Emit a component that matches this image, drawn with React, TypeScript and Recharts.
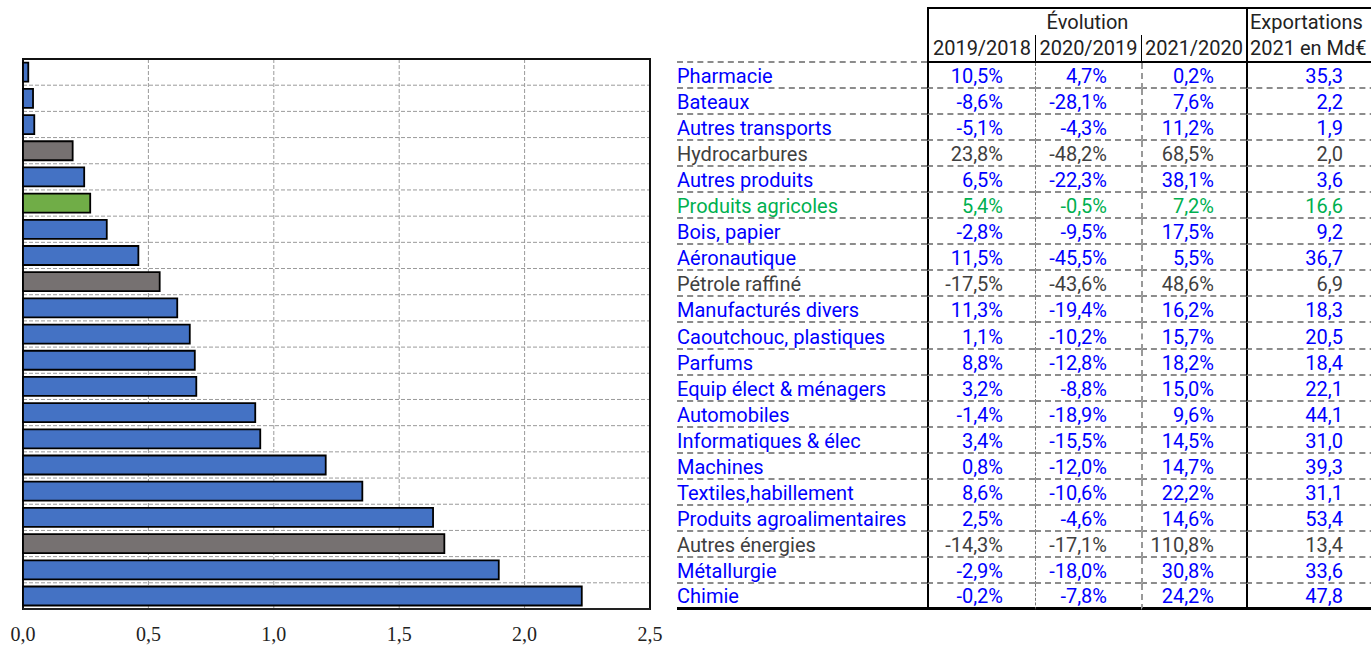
import { Bar, BarChart, CartesianGrid, Cell, ReferenceArea, XAxis, YAxis } from 'recharts'

// secteurs, du plus petit au plus grand
const CATEGORIES = [
  'Pharmacie',
  'Bateaux',
  'Autres transports',
  'Hydrocarbures',
  'Autres produits',
  'Produits agricoles',
  'Bois, papier',
  'Aéronautique',
  'Pétrole raffiné',
  'Manufacturés divers',
  'Caoutchouc, plastiques',
  'Parfums',
  'Equip élect & ménagers',
  'Automobiles',
  'Informatiques & élec',
  'Machines',
  'Textiles,habillement',
  'Produits agroalimentaires',
  'Autres énergies',
  'Métallurgie',
  'Chimie',
]

const VALUES = [
  0.021, 0.04, 0.045, 0.198, 0.244, 0.268, 0.334, 0.46, 0.545, 0.615, 0.665, 0.685, 0.691, 0.926,
  0.946, 1.207, 1.353, 1.635, 1.68, 1.897, 2.228,
]

// m = manufacturés, e = énergie, a = agriculture
const GROUPS = [
  'm', 'm', 'm', 'e', 'm', 'a', 'm', 'm', 'e', 'm', 'm', 'm', 'm', 'm', 'm', 'm', 'm', 'm', 'e',
  'm', 'm',
]

const EVOL_2019_2018 = [
  10.5, -8.6, -5.1, 23.8, 6.5, 5.4, -2.8, 11.5, -17.5, 11.3, 1.1, 8.8, 3.2, -1.4, 3.4, 0.8, 8.6,
  2.5, -14.3, -2.9, -0.2,
]
const EVOL_2020_2019 = [
  4.7, -28.1, -4.3, -48.2, -22.3, -0.5, -9.5, -45.5, -43.6, -19.4, -10.2, -12.8, -8.8, -18.9,
  -15.5, -12.0, -10.6, -4.6, -17.1, -18.0, -7.8,
]
const EVOL_2021_2020 = [
  0.2, 7.6, 11.2, 68.5, 38.1, 7.2, 17.5, 5.5, 48.6, 16.2, 15.7, 18.2, 15.0, 9.6, 14.5, 14.7, 22.2,
  14.6, 110.8, 30.8, 24.2,
]
const EXPORTS_2021 = [
  35.3, 2.2, 1.9, 2.0, 3.6, 16.6, 9.2, 36.7, 6.9, 18.3, 20.5, 18.4, 22.1, 44.1, 31.0, 39.3, 31.1,
  53.4, 13.4, 33.6, 47.8,
]

const X_TICKS = [0, 0.5, 1, 1.5, 2, 2.5]

const BAR_COLORS: Record<string, string> = { m: '#4472C4', e: '#767171', a: '#70AD47' }
const TEXT_COLORS: Record<string, string> = { m: '#0000FF', e: '#404040', a: '#00B050' }

const data = CATEGORIES.map((name, i) => ({ name, value: VALUES[i], group: GROUPS[i] }))

const fmt1 = (v: number) => v.toFixed(1).replace('.', ',')
const fmtPct = (v: number) => `${fmt1(v)}%`

const COL_W = [250, 108, 106, 105, 140]
const ROW_H = 26.05
const FONT = 'Roboto, sans-serif'

function Table() {
  const cell = (w: number, extra: React.CSSProperties = {}): React.CSSProperties => ({
    width: w,
    boxSizing: 'border-box',
    height: '100%',
    display: 'flex',
    alignItems: 'center',
    whiteSpace: 'nowrap',
    ...extra,
  })
  return (
    <div
      style={{
        position: 'absolute',
        left: 677,
        top: 7,
        fontFamily: FONT,
        fontSize: 20,
        color: '#222',
      }}
    >
      {/* en-tête */}
      <div style={{ display: 'flex', height: 28 }}>
        <div style={cell(COL_W[0])} />
        <div
          style={cell(COL_W[1] + COL_W[2] + COL_W[3], {
            justifyContent: 'center',
            borderTop: '2px solid #000',
            borderLeft: '2px solid #000',
          })}
        >
          Évolution
        </div>
        <div
          style={cell(COL_W[4], {
            paddingLeft: 2,
            borderTop: '2px solid #000',
            borderLeft: '2px solid #000',
          })}
        >
          Exportations
        </div>
      </div>
      <div style={{ display: 'flex', height: 28 }}>
        <div style={cell(COL_W[0], { borderBottom: '2px dashed #8c8c8c' })} />
        {['2019/2018', '2020/2019', '2021/2020'].map((t, j) => (
          <div
            key={t}
            style={cell(COL_W[j + 1], {
              justifyContent: 'center',
              borderLeft: j === 0 ? '2px solid #000' : '1px solid #000',
              borderBottom: '2px solid #000',
            })}
          >
            {t}
          </div>
        ))}
        <div
          style={cell(COL_W[4], {
            paddingLeft: 2,
            borderLeft: '2px solid #000',
            borderBottom: '2px solid #000',
          })}
        >
          2021 en Md€
        </div>
      </div>
      {/* lignes */}
      {CATEGORIES.map((name, i) => {
        const color = TEXT_COLORS[GROUPS[i]]
        const last = i === CATEGORIES.length - 1
        const bottom = last ? '3px solid #000' : '2px dashed #8c8c8c'
        return (
          <div key={name} style={{ display: 'flex', height: ROW_H, color }}>
            <div style={cell(COL_W[0], { borderBottom: bottom, paddingTop: 2 })}>{name}</div>
            <div
              style={cell(COL_W[1], {
                justifyContent: 'flex-end',
                paddingRight: 32,
                paddingTop: 2,
                borderLeft: '2px solid #000',
                borderBottom: bottom,
              })}
            >
              {fmtPct(EVOL_2019_2018[i])}
            </div>
            <div
              style={cell(COL_W[2], {
                justifyContent: 'flex-end',
                paddingRight: 34,
                paddingTop: 2,
                borderLeft: '1px dashed #777',
                borderBottom: bottom,
              })}
            >
              {fmtPct(EVOL_2020_2019[i])}
            </div>
            <div
              style={cell(COL_W[3], {
                justifyContent: 'flex-end',
                paddingRight: 32,
                paddingTop: 2,
                borderLeft: '2px dashed #999',
                borderBottom: bottom,
              })}
            >
              {fmtPct(EVOL_2021_2020[i])}
            </div>
            <div
              style={cell(COL_W[4], {
                justifyContent: 'flex-end',
                paddingRight: 43,
                paddingTop: 2,
                borderLeft: '2px solid #000',
                borderBottom: bottom,
              })}
            >
              {fmt1(EXPORTS_2021[i])}
            </div>
          </div>
        )
      })}
    </div>
  )
}

export default function App() {
  const n = data.length
  return (
    <div
      style={{
        position: 'absolute',
        left: 0,
        top: 0,
        width: 1371,
        height: 646,
        overflow: 'hidden',
        background: '#fff',
      }}
    >
      <div style={{ position: 'absolute', left: 0, top: 0 }}>
        <BarChart
          layout="vertical"
          width={680}
          height={646}
          data={data}
          margin={{ top: 59, right: 30, left: 23, bottom: 0 }}
          barCategoryGap="14%"
        >
          <CartesianGrid
            stroke="#9a9a9a"
            strokeDasharray="4 2"
            horizontalCoordinatesGenerator={({ offset }: any) =>
              Array.from({ length: n + 1 }, (_, i) => offset.top + (i * offset.height) / n)
            }
          />
          <XAxis
            type="number"
            domain={[0, 2.5]}
            ticks={X_TICKS}
            interval={0}
            tickFormatter={fmt1}
            tickLine={false}
            tickSize={0}
            tickMargin={18}
            height={37}
            axisLine={{ stroke: '#222', strokeWidth: 2 }}
            tick={{ fontFamily: '"Liberation Serif", serif', fontSize: 20, fill: '#222' }}
          />
          <YAxis
            type="category"
            dataKey="name"
            tick={false}
            tickLine={false}
            width={0}
            axisLine={{ stroke: '#111', strokeWidth: 2 }}
          />
          <Bar dataKey="value" stroke="#000" strokeWidth={1.8} isAnimationActive={false}>
            {data.map((d) => (
              <Cell key={d.name} fill={BAR_COLORS[d.group]} />
            ))}
          </Bar>
          <ReferenceArea
            x1={0}
            x2={2.5}
            fill="none"
            fillOpacity={0}
            stroke="#111"
            strokeWidth={2}
          />
        </BarChart>
      </div>
      <Table />
    </div>
  )
}
